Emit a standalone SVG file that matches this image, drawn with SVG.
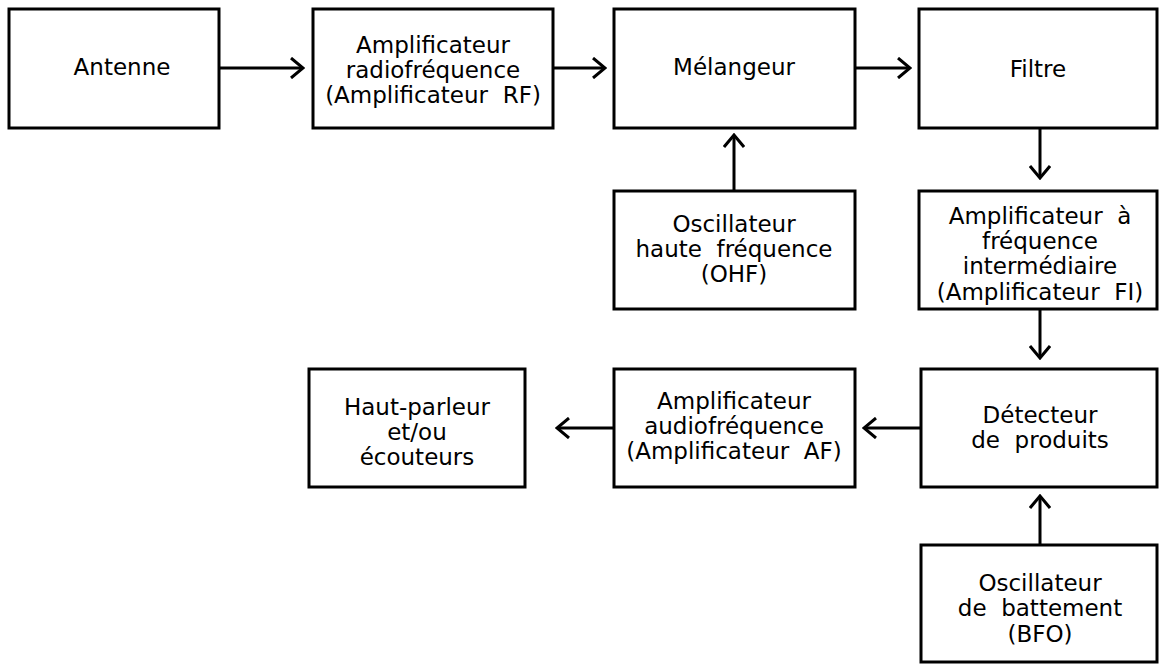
<svg xmlns="http://www.w3.org/2000/svg" width="1159" height="667" viewBox="0 0 1159 667">
<style>
.box{fill:#fff;stroke:#000;stroke-width:3}
.t{font-family:"DejaVu Sans","Liberation Sans",sans-serif;font-size:23px;fill:#000;text-anchor:middle;white-space:pre}
.c{stroke:#000;stroke-width:3;fill:none}
</style>
<defs>
<marker id="ah" viewBox="0 0 16 22" refX="14" refY="11" markerWidth="16" markerHeight="22" markerUnits="userSpaceOnUse" orient="auto">
<path d="M2,1 L14,11 L2,21" fill="none" stroke="#000" stroke-width="3"/>
</marker>
</defs>
<rect width="1159" height="667" fill="#fff"/>
<g id="antenne"><rect class="box" x="9" y="9" width="210" height="119"/><text class="t" x="122" y="75">Antenne</text></g>
<g id="amp-rf"><rect class="box" x="313" y="9" width="240" height="119"/><text class="t" x="433" y="53">Amplificateur</text><text class="t" x="433" y="78">radiofréquence</text><text class="t" x="433" y="103" xml:space="preserve">(Amplificateur  RF)</text></g>
<g id="melangeur"><rect class="box" x="614" y="9" width="241" height="119"/><text class="t" x="734" y="75">Mélangeur</text></g>
<g id="filtre"><rect class="box" x="919" y="9" width="238" height="119"/><text class="t" x="1038" y="77">Filtre</text></g>
<g id="ohf"><rect class="box" x="614" y="191" width="241" height="118"/><text class="t" x="734" y="232">Oscillateur</text><text class="t" x="734" y="257" xml:space="preserve">haute  fréquence</text><text class="t" x="734" y="282">(OHF)</text></g>
<g id="amp-fi"><rect class="box" x="919" y="191" width="238" height="118"/><text class="t" x="1040" y="224" xml:space="preserve">Amplificateur  à</text><text class="t" x="1040" y="249">fréquence</text><text class="t" x="1040" y="274">intermédiaire</text><text class="t" x="1040" y="300" xml:space="preserve">(Amplificateur  FI)</text></g>
<g id="hp"><rect class="box" x="309" y="369" width="216" height="118"/><text class="t" x="417" y="415">Haut-parleur</text><text class="t" x="417" y="440">et/ou</text><text class="t" x="417" y="465">écouteurs</text></g>
<g id="amp-af"><rect class="box" x="614" y="369" width="241" height="118"/><text class="t" x="734" y="409">Amplificateur</text><text class="t" x="734" y="434">audiofréquence</text><text class="t" x="734" y="459" xml:space="preserve">(Amplificateur  AF)</text></g>
<g id="detecteur"><rect class="box" x="921" y="369" width="236" height="118"/><text class="t" x="1040" y="423">Détecteur</text><text class="t" x="1040" y="448" xml:space="preserve">de  produits</text></g>
<g id="bfo"><rect class="box" x="921" y="545" width="236" height="117"/><text class="t" x="1040" y="591">Oscillateur</text><text class="t" x="1040" y="616" xml:space="preserve">de  battement</text><text class="t" x="1040" y="642">(BFO)</text></g>
<g id="connectors">
<line class="c" x1="219" y1="68" x2="303" y2="68" marker-end="url(#ah)"/>
<line class="c" x1="553" y1="68" x2="605" y2="68" marker-end="url(#ah)"/>
<line class="c" x1="855" y1="68" x2="910" y2="68" marker-end="url(#ah)"/>
<line class="c" x1="734" y1="191" x2="734" y2="135" marker-end="url(#ah)"/>
<line class="c" x1="1040" y1="128" x2="1040" y2="178" marker-end="url(#ah)"/>
<line class="c" x1="1040" y1="309" x2="1040" y2="358" marker-end="url(#ah)"/>
<line class="c" x1="921" y1="428" x2="864" y2="428" marker-end="url(#ah)"/>
<line class="c" x1="614" y1="428" x2="557" y2="428" marker-end="url(#ah)"/>
<line class="c" x1="1040" y1="545" x2="1040" y2="496" marker-end="url(#ah)"/>
</g>
</svg>
